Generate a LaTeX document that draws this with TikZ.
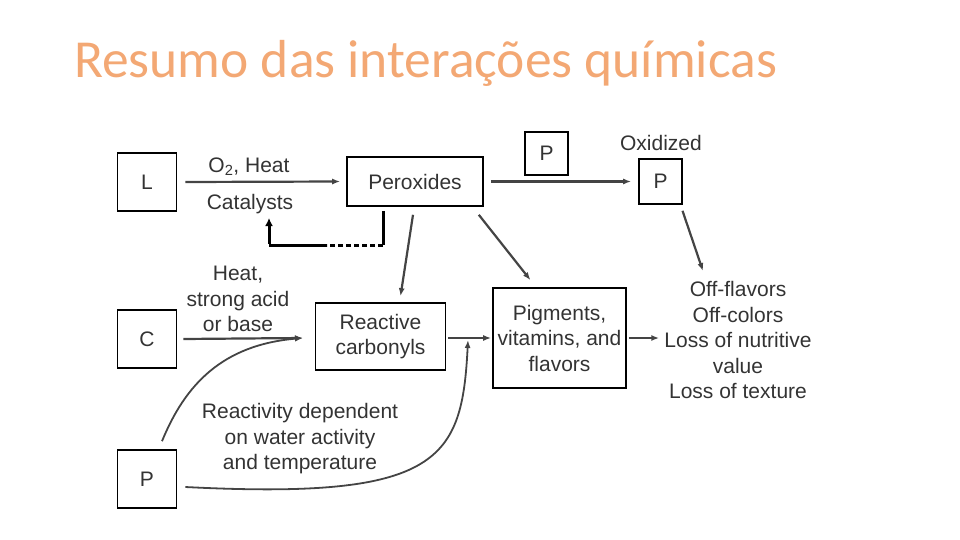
\documentclass[tikz,border=0pt]{standalone}
\usepackage{fontspec}
\setmainfont{Liberation Sans}
\newfontfamily\titlefont{Carlito}
\usepackage{tikz}
\usetikzlibrary{arrows.meta,calc}
\usepackage{xcolor}
\definecolor{titleorange}{HTML}{F3A874}
\definecolor{textgray}{HTML}{333333}
\definecolor{linegray}{HTML}{444444}

\begin{document}
\begin{tikzpicture}[x=1pt,y=-1pt]

    % --- Global Settings ---
    \tikzset{
        itembox/.style={draw, line width=1.6pt, text=textgray, inner sep=0pt, align=center,
            font=\fontsize{21}{25.5}\selectfont},
        plaintext/.style={text=textgray, inner sep=0pt, align=center,
            font=\fontsize{21}{25.5}\selectfont},
        flowarrow/.style={-{Latex[length=8pt,width=6pt]}, line width=2.2pt, draw=linegray},
        fbline/.style={line width=3pt, black, line join=miter}
    }

    \useasboundingbox (0,0) rectangle (960,540);

    % --- Title ---
    \node[anchor=base west, inner sep=0pt, text=titleorange,
        font=\titlefont\fontsize{53.5}{60}\selectfont] (title) at (74,78)
        {Resumo das interações químicas};

    % --- Boxes ---
    \node[itembox, minimum width=59pt, minimum height=58pt] (L) at (147,182) {L};
    \node[itembox, minimum width=136pt, minimum height=49pt] (Peroxides) at (415,181.5) {Peroxides};
    \node[itembox, minimum width=43pt, minimum height=43pt] (Ptop) at (546.5,153.5) {P};
    \node[itembox, minimum width=43pt, minimum height=45pt] (Pox) at (660.5,181.5) {P};
    \node[itembox, minimum width=59pt, minimum height=58pt] (C) at (147,339) {C};
    \node[itembox, minimum width=130pt, minimum height=67pt] (Reactive) at (380.5,336.5) {Reactive\\carbonyls};
    \node[itembox, minimum width=133pt, minimum height=100pt] (Pigments) at (559.5,338) {Pigments,\\vitamins, and\\flavors};
    \node[itembox, minimum width=59pt, minimum height=58pt] (Pbot) at (147,479) {P};

    % --- Labels ---
    \node[plaintext, anchor=base] (lblox) at (249,172) {O\textsubscript{2}, Heat};
    \node[plaintext, anchor=base] (lblcat) at (250,209) {Catalysts};
    \node[plaintext, anchor=base] (lbloxid) at (661,151) {Oxidized};
    \node[plaintext] (lblheat) at (238,299) {Heat,\\strong acid\\or base};
    \node[plaintext] (lblwater) at (300,439) {Reactivity dependent\\on water activity\\and temperature};
    \node[plaintext] (Effects) at (738,340) {Off-flavors\\Off-colors\\Loss of nutritive\\value\\Loss of texture};

    % --- Join points ---
    \coordinate (cjoin) at (303,338);
    \coordinate (pjoin) at (468,340);

    % --- Straight arrows ---
    \draw[flowarrow] ([xshift=8pt]L.east) -- ([xshift=-6pt]Peroxides.west);
    \draw[flowarrow] ([xshift=7pt]Peroxides.east) -- ([xshift=-7pt]Pox.west);
    \draw[flowarrow] ($(Pox.south)+(22,6)$) -- ($(Effects.north)+(-35,-10)$);
    \draw[flowarrow] ($(Peroxides.south)+(-2,8)$) -- ($(Reactive.north)+(20,-6)$);
    \draw[flowarrow] ($(Peroxides.south east)+(-5,8)$) -- ($(Pigments.north)+(-29,-7)$);
    \draw[flowarrow] ([xshift=6pt]C.east) -- (cjoin);
    \draw[flowarrow] ($(Reactive.east)+(2,1.5)$) -- ($(Pigments.west)+(-1,0)$);
    \draw[flowarrow] ($(Pigments.east)+(2,0)$) -- ($(Effects.west)+(-5,-2)$);

    % --- Curved arrows from the lower P ---
    \draw[flowarrow, line width=1.8pt] ($(Pbot.north)+(15,-8)$) .. controls (185,385) and (222,345) .. (cjoin);
    \draw[flowarrow, line width=1.8pt] ($(Pbot.east)+(8,8)$) .. controls (440,500) and (462,460) .. (pjoin);

    % --- Feedback to the catalysts ---
    \coordinate (fbcorner) at (383,245);
    \coordinate (fbdash) at (327,245);
    \coordinate (fbturn) at (269,245);
    \coordinate (fbtip) at (269,218);
    \draw[fbline] ($(Peroxides.south)+(-32,4)$) -- (fbcorner);
    \draw[fbline, dash pattern=on 5pt off 3pt] (fbcorner) -- (fbdash);
    \draw[fbline] (fbdash) -- (fbturn);
    \draw[fbline, -{Latex[length=8pt,width=8pt]}] ([yshift=1.5pt]fbturn) -- (fbtip);

\end{tikzpicture}
\end{document}
